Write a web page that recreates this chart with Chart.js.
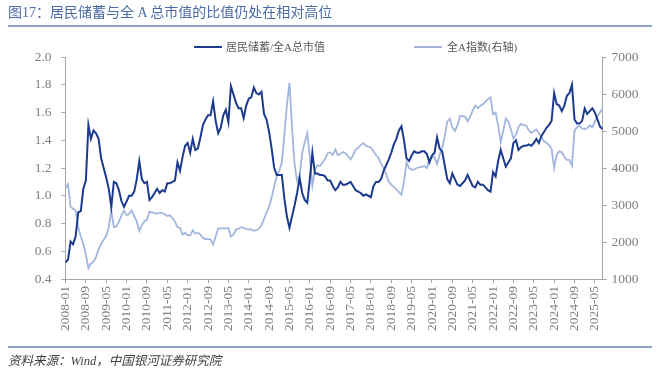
<!DOCTYPE html>
<html>
<head>
<meta charset="utf-8">
<script src="https://cdn.jsdelivr.net/npm/chart.js@4.4.1/dist/chart.umd.min.js"></script>
<style>
  html, body { margin: 0; padding: 0; background: #fff; }
  #wrap { position: relative; width: 660px; height: 374px; overflow: hidden;
          font-family: "Liberation Serif", "Noto Sans CJK SC", serif; }
  #chart-box { position: absolute; left: 0; top: 0; width: 660px; height: 374px; }
  #title { position: absolute; left: 8px; top: 4px; font-size: 14px; line-height: 18px;
           color: #4a6aa5; white-space: nowrap; }
  .rule { position: absolute; left: 8px; width: 644px; height: 1.5px; background: #8ea2c6; }
  .swatch { position: absolute; width: 28px; height: 2px; }
  .leg-text { position: absolute; font-size: 11px; line-height: 14px; color: #595959; white-space: nowrap; }
  #source { position: absolute; left: 8px; top: 353px; font-size: 12.5px; line-height: 16px;
            font-style: italic; color: #404040; white-space: nowrap; }
</style>
</head>
<body>
<div id="wrap">
  <div id="chart-box"><canvas id="my-chart"></canvas></div>
  <div id="title">图17：居民储蓄与全 A 总市值的比值仍处在相对高位</div>
  <div class="rule" style="top:25px"></div>
  <div class="swatch" style="left:194px; top:46px; background:#1c3a8e"></div>
  <div class="leg-text" style="left:226px; top:40px">居民储蓄/全A总市值</div>
  <div class="swatch" style="left:414px; top:46px; background:#a3b6de"></div>
  <div class="leg-text" style="left:447px; top:40px">全A指数(右轴)</div>
  <div class="rule" style="top:346px"></div>
  <div id="source">资料来源：Wind，中国银河证券研究院</div>
</div>
<script>
'use strict';

// monthly categories, 2008-01 .. 2025-08
const startYear = 2008;
const monthCount = 212;
const months = [];
for (let i = 0; i < monthCount; i++) {
  let year = startYear + Math.floor(i / 12);
  let month = (i % 12) + 1;
  months.push(year + '-' + String(month).padStart(2, '0'));
}

// x tick labels shown on the axis
const shownTicks = [
  '2008-01', '2008-09', '2009-05', '2010-01', '2010-09', '2011-05', '2012-01',
  '2012-09', '2013-05', '2014-01', '2014-09', '2015-05', '2016-01', '2016-09',
  '2017-05', '2018-01', '2018-09', '2019-05', '2020-01', '2020-09', '2021-05',
  '2022-01', '2022-09', '2023-05', '2024-01', '2024-09', '2025-05',
];

const leftTicks = [0.4, 0.6, 0.8, 1.0, 1.2, 1.4, 1.6, 1.8, 2.0];
const rightTicks = [1000, 2000, 3000, 4000, 5000, 6000, 7000];

// 居民储蓄/全A总市值 (one row per year)
const savingsRatio = [
  0.52, 0.54, 0.67, 0.65, 0.71, 0.88, 0.89, 1.05, 1.11, 1.51, 1.41, 1.47,
  1.45, 1.41, 1.27, 1.20, 1.13, 1.05, 0.92, 1.10, 1.09, 1.04, 0.96, 0.92,
  0.96, 1.00, 1.00, 1.03, 1.12, 1.25, 1.12, 1.09, 1.10, 0.97, 0.99, 1.02,
  1.05, 1.02, 1.04, 1.03, 1.09, 1.09, 1.10, 1.11, 1.24, 1.18, 1.28, 1.36,
  1.38, 1.31, 1.41, 1.33, 1.34, 1.42, 1.51, 1.55, 1.58, 1.58, 1.68, 1.54,
  1.45, 1.49, 1.58, 1.62, 1.53, 1.79, 1.73, 1.67, 1.63, 1.63, 1.56, 1.65,
  1.70, 1.71, 1.78, 1.74, 1.73, 1.75, 1.59, 1.55, 1.46, 1.34, 1.20, 1.15,
  1.15, 1.15, 0.98, 0.85, 0.77, 0.85, 0.93, 1.02, 1.13, 1.02, 0.97, 0.95,
  1.12, 1.31, 1.16, 1.16, 1.15, 1.15, 1.14, 1.11, 1.11, 1.07, 1.04, 1.06,
  1.10, 1.08, 1.08, 1.09, 1.10, 1.07, 1.04, 1.03, 1.02, 1.00, 1.01, 1.00,
  0.99, 1.07, 1.10, 1.10, 1.12, 1.18, 1.22, 1.26, 1.31, 1.37, 1.41, 1.47,
  1.50, 1.40, 1.27, 1.25, 1.29, 1.32, 1.31, 1.31, 1.32, 1.32, 1.30, 1.24,
  1.29, 1.31, 1.42, 1.34, 1.32, 1.22, 1.12, 1.09, 1.16, 1.12, 1.08, 1.07,
  1.09, 1.11, 1.15, 1.11, 1.07, 1.06, 1.10, 1.08, 1.08, 1.06, 1.04, 1.03,
  1.17, 1.14, 1.25, 1.33, 1.27, 1.21, 1.24, 1.27, 1.38, 1.40, 1.33, 1.35,
  1.36, 1.36, 1.37, 1.36, 1.38, 1.41, 1.38, 1.43, 1.46, 1.49, 1.51, 1.54,
  1.74, 1.66, 1.65, 1.61, 1.65, 1.72, 1.74, 1.80, 1.55, 1.52, 1.52, 1.54,
  1.63, 1.59, 1.61, 1.63, 1.60, 1.55, 1.50, 1.48,
];

// 全A指数 (right axis)
const allAIndex = [
  3450, 3560, 2950, 2900, 2850, 2400, 2150, 1950, 1660, 1290, 1420, 1460,
  1600, 1800, 1950, 2060, 2160, 2400, 2850, 2400, 2420, 2550, 2720, 2850,
  2720, 2760, 2850, 2700, 2550, 2300, 2450, 2560, 2600, 2820, 2800, 2780,
  2760, 2800, 2780, 2750, 2700, 2720, 2650, 2550, 2400, 2380, 2200, 2250,
  2180, 2180, 2320, 2230, 2250, 2200, 2110, 2080, 2080, 2070, 1930, 2150,
  2370, 2370, 2370, 2370, 2380, 2150, 2200, 2330, 2360, 2400, 2380, 2350,
  2340, 2340, 2300, 2320, 2360, 2450, 2620, 2800, 2950, 3200, 3500, 3780,
  3930, 4150, 4900, 5700, 6300, 5100, 4100, 3650, 3800, 4400, 4700, 4940,
  4300, 3520, 3950, 4080, 4050, 4150, 4250, 4400, 4420, 4350, 4500, 4350,
  4380, 4430, 4400, 4320, 4230, 4350, 4490, 4550, 4620, 4670, 4600, 4580,
  4550, 4450, 4350, 4270, 4120, 3990, 3830, 3630, 3550, 3490, 3420, 3350,
  3280, 3630, 4150, 4000, 3950, 3960, 4000, 4020, 4030, 4050, 4000, 4250,
  4280, 4300, 4100, 4350, 4550, 4850, 5250, 5330, 5100, 5000, 5150, 5400,
  5400, 5390, 5260, 5380, 5550, 5690, 5620, 5680, 5720, 5800, 5860, 5910,
  5450, 5500, 5150, 4700, 5000, 5340, 5260, 5050, 4800, 4900, 5100, 5190,
  5160, 5150, 5020, 4950, 4990, 5040, 4940, 4830, 4720, 4680, 4620, 4520,
  4000, 4360, 4450, 4430, 4300, 4220, 4220, 4060, 5010, 5100, 5140, 5060,
  5050, 5080, 5150, 5100, 5250, 5400, 5500, 5600,
];

const axisColor = '#a6a6a6';
const tickTextColor = '#808080';
const tickFont = { family: 'Liberation Serif', size: 13.5 };

function renderChart() {
  let ctx = document.getElementById('my-chart').getContext('2d');

  let savingsChart = new Chart(ctx, {
    type: 'line',
    data: {
      labels: months,
      datasets: [{
        label: '居民储蓄/全A总市值',
        data: savingsRatio,
        yAxisID: 'y',
        borderColor: '#1c3a8e',
        borderWidth: 2,
        pointRadius: 0,
        tension: 0,
      }, {
        label: '全A指数(右轴)',
        data: allAIndex,
        yAxisID: 'y1',
        borderColor: '#a3b6de',
        borderWidth: 1.8,
        pointRadius: 0,
        tension: 0,
      }],
    },
    options: {
      responsive: true,
      maintainAspectRatio: false,
      animation: false,
      devicePixelRatio: 1,
      layout: { padding: { top: 57, left: 0, right: 0, bottom: 0 } },
      plugins: {
        legend: { display: false },
        tooltip: { enabled: false },
      },
      scales: {
        x: {
          type: 'category',
          offset: false,
          grid: { drawOnChartArea: false, drawTicks: true, tickLength: 4, color: axisColor },
          border: { display: true, color: axisColor },
          ticks: {
            autoSkip: false,
            maxRotation: 90,
            minRotation: 90,
            padding: 3,
            color: tickTextColor,
            font: tickFont,
          },
          // only keep the labelled months as ticks
          afterBuildTicks: (scale) => {
            scale.ticks = scale.ticks.filter((t) => shownTicks.includes(months[t.value]));
          },
          afterFit: (scale) => { scale.height = 95; },
        },
        y: {
          position: 'left',
          min: leftTicks[0],
          max: leftTicks[leftTicks.length - 1],
          grid: { drawOnChartArea: false, tickLength: 4, color: axisColor },
          border: { display: true, color: axisColor },
          ticks: {
            stepSize: 0.2,
            padding: 10,
            color: tickTextColor,
            font: tickFont,
            callback: (value) => Number(value).toFixed(1),
          },
          afterFit: (scale) => { scale.width = 65.5; },
        },
        y1: {
          position: 'right',
          min: rightTicks[0],
          max: rightTicks[rightTicks.length - 1],
          grid: { drawOnChartArea: false, tickLength: 4, color: axisColor },
          border: { display: true, color: axisColor },
          ticks: {
            stepSize: 1000,
            padding: 5,
            color: tickTextColor,
            font: tickFont,
            callback: (value) => String(value),
          },
          afterFit: (scale) => { scale.width = 57.5; },
        },
      },
    },
  });
}

renderChart();
</script>
</body>
</html>
